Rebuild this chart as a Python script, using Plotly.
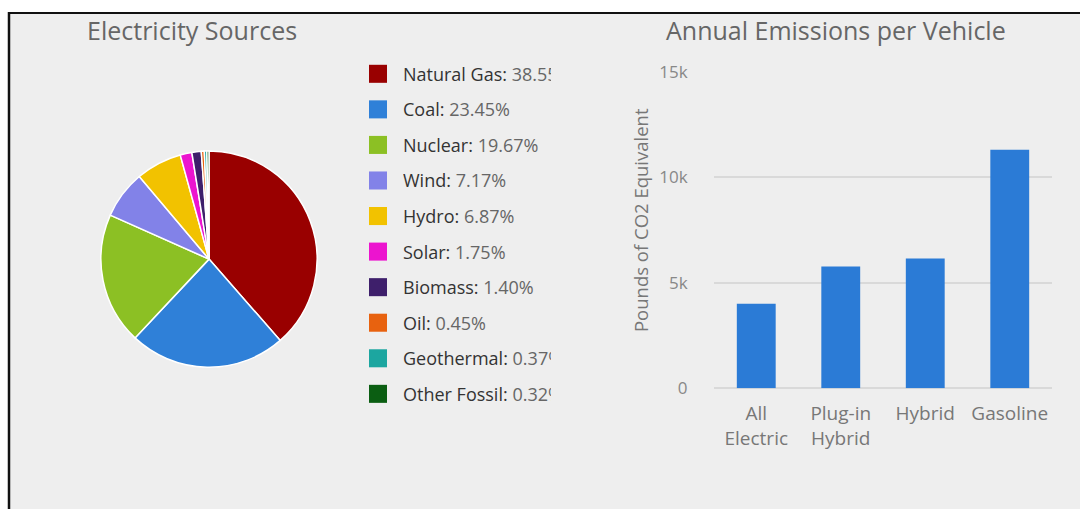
import plotly.graph_objects as go

# ---------------- data ----------------
source_names = ["Natural Gas", "Coal", "Nuclear", "Wind", "Hydro", "Solar",
                "Biomass", "Oil", "Geothermal", "Other Fossil"]
source_pct = [38.55, 23.45, 19.67, 7.17, 6.87, 1.75, 1.40, 0.45, 0.37, 0.32]
source_colors = ["#990000", "#2f80d8", "#8cc024", "#8282e8", "#f2c200",
                 "#ec14cf", "#3e1f6b", "#e8620f", "#1ca6a0", "#0b5e12"]

vehicle_labels = ["All<br>Electric", "Plug-in<br>Hybrid", "Hybrid", "Gasoline"]
vehicle_emissions = [4010, 5770, 6150, 11310]
y_ticks = [0, 5000, 10000, 15000]

W, H = 1080, 530
# vertical placement helper (target pixel row -> figure pixel row)
def fy(y):
    return (y - 11.3) / 0.955
def px(x):
    return x / W
def py(y):
    return 1 - fy(y) / H

FONT = "Open Sans"

fig = go.Figure()

pc = fy(258)
fig.add_trace(go.Pie(
    labels=source_names, values=source_pct, sort=False, direction="clockwise",
    rotation=0, textinfo="none", hoverinfo="label+percent",
    marker=dict(colors=source_colors, line=dict(color="white", width=1.5)),
    domain=dict(x=[px(96), px(322)], y=[1 - (pc + 113) / H, 1 - (pc - 113) / H]),
    showlegend=False,
))

fig.add_trace(go.Bar(
    x=vehicle_labels, y=vehicle_emissions, marker_color="#2b7bd6",
    marker_line_width=0, showlegend=False, xaxis="x", yaxis="y",
))

shapes = [
    dict(type="rect", xref="paper", yref="paper", x0=px(10), x1=px(1080),
         y0=0, y1=1 - 1.5 / H, fillcolor="#eeeeee", line_width=0, layer="below"),
    dict(type="line", xref="paper", yref="paper", x0=px(8), x1=px(1080),
         y0=1 - 1 / H, y1=1 - 1 / H, line=dict(color="#111111", width=2), layer="below"),
    dict(type="line", xref="paper", yref="paper", x0=px(9), x1=px(9),
         y0=0, y1=1, line=dict(color="#111111", width=2.5), layer="below"),
]

annotations = [
    dict(text="Electricity Sources", x=px(192), y=py(29), xref="paper", yref="paper",
         showarrow=False, xanchor="center", yanchor="middle",
         font=dict(family=FONT, size=25, color="#666666")),
    dict(text="Annual Emissions per Vehicle", x=px(836), y=py(29), xref="paper", yref="paper",
         showarrow=False, xanchor="center", yanchor="middle",
         font=dict(family=FONT, size=25, color="#666666")),
    dict(text="Pounds of CO2 Equivalent", x=px(640), y=py(219), xref="paper", yref="paper",
         showarrow=False, xanchor="center", yanchor="middle", textangle=-90,
         font=dict(family=FONT, size=18.5, color="#777777")),
]

row0, step = 73, 35.5
for i, (n, v, c) in enumerate(zip(source_names, source_pct, source_colors)):
    yc = row0 + i * step
    shapes.append(dict(type="rect", xref="paper", yref="paper",
                       x0=px(369), x1=px(387), y0=py(yc + 9), y1=py(yc - 9),
                       fillcolor=c, line_width=0))
    annotations.append(dict(
        text=f"<span style='color:#333333'>{n}:</span> <span style='color:#666666'>{v:.2f}%</span>",
        x=px(401), y=py(yc), xref="paper", yref="paper", showarrow=False,
        xanchor="left", yanchor="middle", align="left", width=148,
        font=dict(family=FONT, size=18, color="#333333")))

fig.update_layout(
    width=W, height=H, autosize=False, margin=dict(l=0, r=0, t=0, b=0),
    paper_bgcolor="white", plot_bgcolor="rgba(0,0,0,0)",
    bargap=0.54, shapes=shapes, annotations=annotations,
    xaxis=dict(domain=[px(714), px(1052)], anchor="y", showgrid=False,
               ticks="outside", ticklen=8, tickcolor="rgba(0,0,0,0)",
               showline=False, zeroline=False,
               tickfont=dict(family=FONT, size=19, color="#777777")),
    yaxis=dict(domain=[py(387), py(71)], anchor="x", range=[0, 15000],
               tickvals=y_ticks, tickformat="~s",
               showgrid=True, gridcolor="#d9d9d9", gridwidth=2,
               zeroline=True, zerolinecolor="#d9d9d9", zerolinewidth=2,
               ticks="outside", ticklen=22, tickcolor="rgba(0,0,0,0)",
               tickfont=dict(family=FONT, size=17, color="#888888")),
    font=dict(family=FONT),
)

fig.write_html("out.html")
